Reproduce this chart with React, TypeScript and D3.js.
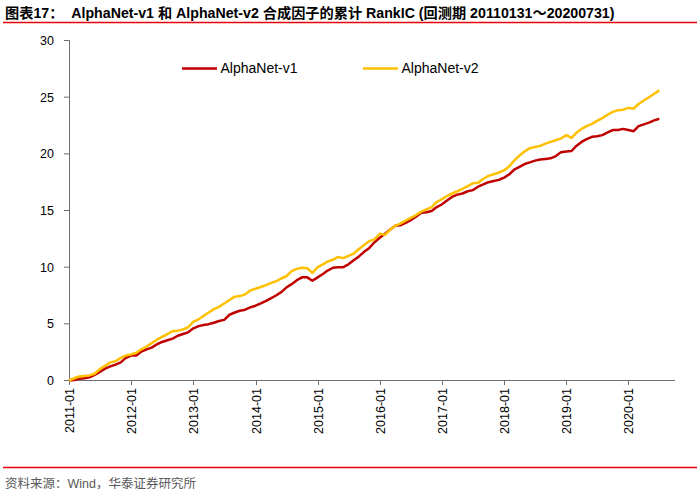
import React from "react";
import * as d3 from "d3";

const seriesNames = ["AlphaNet-v1", "AlphaNet-v2"];
const seriesColors = ["#c00000", "#ffc000"];

// Monthly observations, 2011-01 .. 2020-07
const months: Date[] = d3.timeMonths(new Date(2011, 0, 1), new Date(2020, 7, 1));

const v1: number[] = [
  0.0, 0.05, 0.15, 0.2, 0.28, 0.5, 0.75, 1.05, 1.25, 1.4, 1.6, 2.0,
  2.2, 2.2, 2.55, 2.75, 2.9, 3.2, 3.4, 3.55, 3.7, 3.95, 4.1, 4.25,
  4.6, 4.8, 4.9, 4.97, 5.1, 5.25, 5.35, 5.8, 6.0, 6.15, 6.25, 6.45,
  6.6, 6.8, 7.0, 7.25, 7.5, 7.8, 8.2, 8.5, 8.85, 9.1, 9.1, 8.8,
  9.1, 9.4, 9.7, 9.95, 10.0, 10.0, 10.25, 10.6, 10.95, 11.35, 11.7, 12.2,
  12.6, 12.95, 13.3, 13.65, 13.7, 13.9, 14.15, 14.45, 14.8, 14.85, 14.95, 15.3,
  15.55, 15.9, 16.2, 16.4, 16.5, 16.7, 16.8, 17.1, 17.3, 17.5, 17.6, 17.7,
  17.9, 18.2, 18.6, 18.85, 19.1, 19.25, 19.4, 19.5, 19.55, 19.6, 19.8, 20.15,
  20.2, 20.25, 20.7, 21.05, 21.3, 21.5, 21.55, 21.65, 21.9, 22.1, 22.1, 22.2,
  22.1, 22.0, 22.45, 22.6, 22.75, 22.95, 23.1,
];

const v2: number[] = [
  0.0, 0.2, 0.35, 0.4, 0.45, 0.6, 1.0, 1.3, 1.6, 1.7, 2.0, 2.2,
  2.3, 2.45, 2.75, 3.0, 3.3, 3.6, 3.85, 4.1, 4.35, 4.4, 4.5, 4.7,
  5.2, 5.4, 5.7, 6.0, 6.3, 6.5, 6.8, 7.1, 7.4, 7.45, 7.6, 7.95,
  8.1, 8.25, 8.4, 8.6, 8.75, 9.0, 9.2, 9.65, 9.85, 9.95, 9.9, 9.5,
  10.0, 10.25, 10.5, 10.65, 10.9, 10.8, 11.0, 11.2, 11.6, 11.95, 12.3, 12.45,
  12.95, 12.85, 13.3, 13.65, 13.85, 14.1, 14.35, 14.6, 14.9, 15.1, 15.3, 15.75,
  16.0, 16.3, 16.5, 16.7, 16.9, 17.15, 17.4, 17.45, 17.8, 18.05, 18.2, 18.35,
  18.55, 18.9, 19.4, 19.85, 20.2, 20.5, 20.6, 20.7, 20.9, 21.05, 21.2, 21.35,
  21.65, 21.4, 21.85, 22.2, 22.45, 22.65, 22.9, 23.15, 23.45, 23.7, 23.85, 23.9,
  24.05, 24.0, 24.4, 24.7, 25.0, 25.3, 25.6,
];

const yTicks = [0, 5, 10, 15, 20, 25, 30];
const xTickYears = [2011, 2012, 2013, 2014, 2015, 2016, 2017, 2018, 2019, 2020];

const titleText = "图表17：  AlphaNet-v1 和 AlphaNet-v2 合成因子的累计 RankIC (回测期 20110131～20200731)";
const sourceText = "资料来源：Wind，华泰证券研究所";

const latin = "'Liberation Sans', Arial, 'Noto Sans CJK SC', sans-serif";

export default function App() {
  const W = 700;
  const H = 493;
  const x = d3
    .scaleTime()
    .domain([new Date(2011, 0, 1), new Date(2020, 9, 1)])
    .range([69, 675]);
  const y = d3.scaleLinear().domain([0, 30]).range([380.5, 40.5]);

  const line = d3
    .line<number>()
    .x((_, i) => x(months[i]))
    .y((d) => y(d))
    .curve(d3.curveLinear);

  const series = [v1, v2];
  const axisColor = "#6f6f6f";

  return (
    <svg
      width={W}
      height={H}
      style={{ position: "absolute", left: 0, top: 0, background: "#fff" }}
    >
      <rect x={0} y={0} width={W} height={H} fill="#fff" />
      {/* Title */}
      <text
        x={5}
        y={17.5}
        fontFamily={latin}
        fontWeight="bold"
        fontSize={14.2}
        fill="#000"
        style={{ whiteSpace: "pre" }}
      >
        {titleText}
      </text>
      <line x1={3} x2={697} y1={22.5} y2={22.5} stroke="#e8000b" strokeWidth={1.5} />

      {/* Y axis */}
      <line x1={69.5} x2={69.5} y1={y(30)} y2={y(0)} stroke={axisColor} strokeWidth={1} />
      {yTicks.map((t) => (
        <g key={t}>
          <line x1={64} x2={69.5} y1={y(t)} y2={y(t)} stroke={axisColor} strokeWidth={1} />
          <text
            x={54}
            y={y(t)}
            dy="0.35em"
            textAnchor="end"
            fontFamily={latin}
            fontSize={12.5}
            fill="#000"
          >
            {t}
          </text>
        </g>
      ))}

      {/* X axis */}
      <line x1={69} x2={675} y1={380.5} y2={380.5} stroke={axisColor} strokeWidth={1} />
      {xTickYears.map((yr) => {
        const px = Math.round(x(new Date(yr, 0, 1))) + 0.5;
        return (
          <g key={yr}>
            <line x1={px} x2={px} y1={380.5} y2={385} stroke={axisColor} strokeWidth={1} />
            <text
              transform={`translate(${px},388) rotate(-90)`}
              dy="0.35em"
              textAnchor="end"
              fontFamily={latin}
              fontSize={12.5}
              fill="#000"
            >
              {`${yr}-01`}
            </text>
          </g>
        );
      })}

      {/* Lines */}
      {series.map((s, i) => (
        <path
          key={i}
          d={line(s) || ""}
          fill="none"
          stroke={seriesColors[i]}
          strokeWidth={2.5}
          strokeLinejoin="round"
        />
      ))}

      {/* Legend */}
      {seriesNames.map((n, i) => {
        const lx = i === 0 ? 182 : 363;
        return (
          <g key={n}>
            <line x1={lx} x2={lx + 35} y1={68.5} y2={68.5} stroke={seriesColors[i]} strokeWidth={2.5} />
            <text x={lx + 38.5} y={68.5} dy="0.35em" fontFamily={latin} fontSize={14} fill="#000">
              {n}
            </text>
          </g>
        );
      })}

      {/* Footer */}
      <line x1={3} x2={697} y1={467.5} y2={467.5} stroke="#e8000b" strokeWidth={1.5} />
      <text
        x={5}
        y={488}
        fontFamily={latin}
        fontSize={12.5}
        fill="#595959"
      >
        {sourceText}
      </text>
    </svg>
  );
}
